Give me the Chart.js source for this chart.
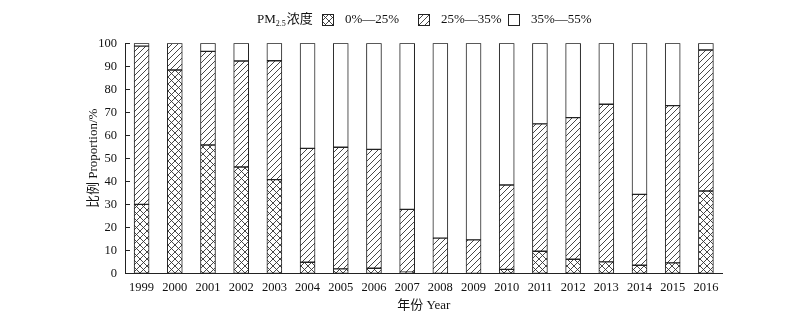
<!DOCTYPE html>
<html><head><meta charset="utf-8">
<script src="https://cdn.jsdelivr.net/npm/chart.js@4/dist/chart.umd.min.js"></script>
<style>html,body{margin:0;padding:0;background:#fff}</style>
</head><body>
<canvas id="c" width="800" height="324"></canvas>
<script>
const years = ['1999','2000','2001','2002','2003','2004','2005','2006','2007','2008','2009','2010','2011','2012','2013','2014','2015','2016'];
const low  = [30.0, 88.4, 55.8, 46.2, 40.7, 4.8, 1.9, 2.2, 0.5, 0, 0, 1.7, 9.6, 6.1, 5.0, 3.5, 4.5, 35.8];
const mid  = [68.8, 11.6, 40.7, 46.1, 51.7, 49.5, 52.9, 51.7, 27.3, 15.3, 14.5, 36.7, 55.4, 61.6, 68.5, 30.8, 68.4, 61.3];
const high = [1.2, 0, 3.5, 7.7, 7.6, 45.7, 45.2, 46.1, 72.2, 84.7, 85.5, 61.6, 35.0, 32.3, 26.5, 65.7, 27.1, 2.9];
const yTicks = [0,10,20,30,40,50,60,70,80,90,100];
const seriesLabels = ['0%—25%','25%—35%','35%—55%'];
const legendTitle = ['PM', '2.5', '浓度'];
const yTitle = '比例 Proportion/%';
const xTitle = '年份 Year';

const SERIF = '"Liberation Serif","Times New Roman","Noto Sans CJK SC",serif';
const INK = '#222';

function makePattern(kind){
  const s = kind === 'cross' ? 7 : 6;
  const t = document.createElement('canvas');
  t.width = s; t.height = s;
  const g = t.getContext('2d');
  g.fillStyle = '#fff'; g.fillRect(0,0,s,s);
  g.strokeStyle = '#333'; g.lineWidth = 0.9;
  g.beginPath();
  g.moveTo(-1, s+1); g.lineTo(s+1, -1);
  if (kind === 'cross') {
    g.moveTo(-1, -1); g.lineTo(s+1, s+1);
  }
  g.stroke();
  return document.getElementById('c').getContext('2d').createPattern(t, 'repeat');
}
const fills = [makePattern('cross'), makePattern('slash'), '#ffffff'];

const legendPlugin = {
  id: 'customLegend',
  afterDraw(chart){
    const ctx = chart.ctx;
    ctx.save();
    const y = 20;
    ctx.textBaseline = 'middle';
    ctx.fillStyle = '#111';
    ctx.font = '13px ' + SERIF;
    let x = 257;
    ctx.textAlign = 'left';
    ctx.fillText(legendTitle[0], x, y);
    x += ctx.measureText(legendTitle[0]).width;
    ctx.font = '8px ' + SERIF;
    ctx.fillText(legendTitle[1], x, y + 4);
    x += ctx.measureText(legendTitle[1]).width + 1;
    ctx.font = '13px ' + SERIF;
    ctx.fillText(legendTitle[2], x, y);
    const items = [
      {bx: 322, tx: 345},
      {bx: 418, tx: 441},
      {bx: 508, tx: 531}
    ];
    items.forEach((it, i) => {
      ctx.fillStyle = fills[i];
      ctx.fillRect(it.bx, y - 6, 12, 12);
      ctx.strokeStyle = INK; ctx.lineWidth = 1;
      ctx.strokeRect(it.bx + 0.5, y - 5.5, 11, 11);
      ctx.fillStyle = '#111';
      ctx.fillText(seriesLabels[i], it.tx, y);
    });
    ctx.restore();
  }
};

const tickPlugin = {
  id: 'inwardTicks',
  afterDatasetsDraw(chart){
    const ctx = chart.ctx;
    const ys = chart.scales.y;
    const left = chart.chartArea.left;
    ctx.save();
    ctx.strokeStyle = INK; ctx.lineWidth = 1;
    ctx.beginPath();
    yTicks.forEach(v => {
      const py = Math.round(ys.getPixelForValue(v)) + 0.5;
      ctx.moveTo(left, py); ctx.lineTo(left + 5, py);
    });
    ctx.stroke();
    ctx.restore();
  }
};

const common = {borderColor: INK, borderWidth: 1, borderSkipped: false, barThickness: 15};
new Chart(document.getElementById('c'), {
  type: 'bar',
  data: {
    labels: years,
    datasets: [
      Object.assign({label: seriesLabels[0], data: low,  backgroundColor: fills[0]}, common),
      Object.assign({label: seriesLabels[1], data: mid,  backgroundColor: fills[1]}, common),
      Object.assign({label: seriesLabels[2], data: high, backgroundColor: fills[2]}, common)
    ]
  },
  options: {
    responsive: false,
    devicePixelRatio: 1,
    animation: false,
    layout: {padding: {left: 0, right: 77.5, top: 43.3, bottom: 0}},
    plugins: {legend: {display: false}, tooltip: {enabled: false}},
    scales: {
      x: {
        stacked: true,
        grid: {display: false, drawTicks: false},
        border: {display: true, color: INK, width: 1},
        ticks: {color: '#111', font: {family: SERIF, size: 12.5}, padding: 7, maxRotation: 0, autoSkip: false},
        title: {display: true, text: xTitle, color: '#111', font: {family: SERIF, size: 13}, padding: {top: 0, bottom: 11}},
        afterFit(s){ s.height = 50.7; }
      },
      y: {
        stacked: true,
        min: 0, max: 100,
        afterBuildTicks(s){ s.ticks = yTicks.map(v => ({value: v})); },
        grid: {display: false, drawTicks: false},
        border: {display: true, color: INK, width: 1},
        ticks: {color: '#111', font: {family: SERIF, size: 12.5}, padding: 8},
        title: {display: true, text: yTitle, color: '#111', font: {family: SERIF, size: 13}, padding: {top: 86, bottom: 0}},
        afterFit(s){ s.width = 125; }
      }
    }
  },
  plugins: [legendPlugin, tickPlugin]
});
</script>
</body></html>
